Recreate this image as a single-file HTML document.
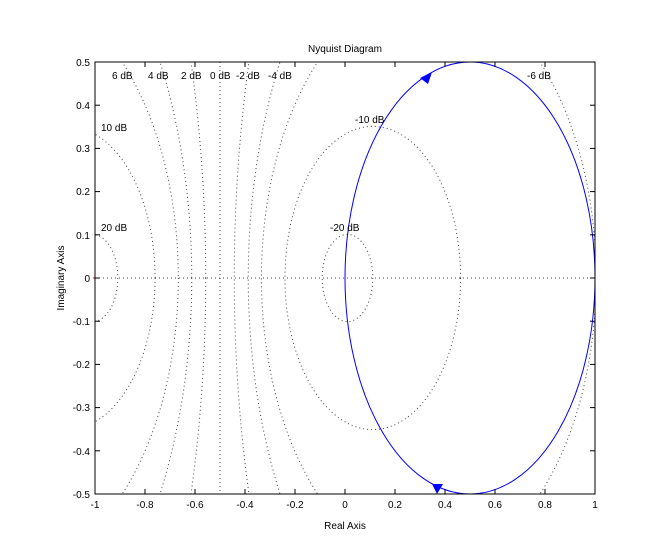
<!DOCTYPE html>
<html><head><style>html,body{margin:0;padding:0;background:#fff;width:657px;height:556px;overflow:hidden}svg{display:block}text{font-family:"Liberation Sans",sans-serif;font-size:10px;fill:#000}</style></head>
<body>
<svg width="657" height="556" viewBox="0 0 657 556" xmlns="http://www.w3.org/2000/svg">
<defs><clipPath id="c"><rect x="95" y="62" width="500" height="432"/></clipPath></defs>
<rect width="657" height="556" fill="#fff"/>
<g clip-path="url(#c)" fill="none" stroke="#444" stroke-width="1" stroke-dasharray="1,3">
<ellipse cx="92.5" cy="278" rx="25.3" ry="43.6"/>
<ellipse cx="67.25" cy="278" rx="87.8" ry="151.6"/>
<ellipse cx="11" cy="278" rx="167.3" ry="289"/>
<ellipse cx="-70.25" cy="278" rx="262" ry="452.7"/>
<ellipse cx="-332.25" cy="278" rx="538" ry="929.7"/>
<line x1="220" y1="62" x2="220" y2="494"/>
<ellipse cx="772.25" cy="278" rx="538" ry="929.7"/>
<ellipse cx="510.25" cy="278" rx="262" ry="452.7"/>
<ellipse cx="428.75" cy="278" rx="167.3" ry="289"/>
<ellipse cx="372.75" cy="278" rx="87.8" ry="151.6"/>
<ellipse cx="347.5" cy="278" rx="25.3" ry="43.6"/>
<line x1="95" y1="278" x2="595" y2="278"/>
</g>
<g clip-path="url(#c)">
<ellipse cx="470" cy="278" rx="125" ry="216" fill="none" stroke="#0000ff" stroke-width="1"/>
</g>
<polygon points="432,72 420,78 428,84" fill="#0000ff"/>
<polygon points="432,484 443,484 437,494" fill="#0000ff"/>
<line x1="93" y1="278" x2="99" y2="278" stroke="#ff0000"/>
<rect x="95" y="62" width="500" height="432" fill="none" stroke="#000"/>
<g stroke="#000">
<line x1="145" y1="494" x2="145" y2="489"/><line x1="195" y1="494" x2="195" y2="489"/><line x1="245" y1="494" x2="245" y2="489"/><line x1="295" y1="494" x2="295" y2="489"/><line x1="345" y1="494" x2="345" y2="489"/><line x1="395" y1="494" x2="395" y2="489"/><line x1="445" y1="494" x2="445" y2="489"/><line x1="495" y1="494" x2="495" y2="489"/><line x1="545" y1="494" x2="545" y2="489"/>
<line x1="145" y1="62" x2="145" y2="67"/><line x1="195" y1="62" x2="195" y2="67"/><line x1="245" y1="62" x2="245" y2="67"/><line x1="295" y1="62" x2="295" y2="67"/><line x1="345" y1="62" x2="345" y2="67"/><line x1="395" y1="62" x2="395" y2="67"/><line x1="445" y1="62" x2="445" y2="67"/><line x1="495" y1="62" x2="495" y2="67"/><line x1="545" y1="62" x2="545" y2="67"/>
<line x1="95" y1="105.2" x2="100" y2="105.2"/><line x1="95" y1="148.4" x2="100" y2="148.4"/><line x1="95" y1="191.6" x2="100" y2="191.6"/><line x1="95" y1="234.8" x2="100" y2="234.8"/><line x1="95" y1="278" x2="100" y2="278"/><line x1="95" y1="321.2" x2="100" y2="321.2"/><line x1="95" y1="364.4" x2="100" y2="364.4"/><line x1="95" y1="407.6" x2="100" y2="407.6"/><line x1="95" y1="450.8" x2="100" y2="450.8"/>
<line x1="595" y1="105.2" x2="590" y2="105.2"/><line x1="595" y1="148.4" x2="590" y2="148.4"/><line x1="595" y1="191.6" x2="590" y2="191.6"/><line x1="595" y1="234.8" x2="590" y2="234.8"/><line x1="595" y1="278" x2="590" y2="278"/><line x1="595" y1="321.2" x2="590" y2="321.2"/><line x1="595" y1="364.4" x2="590" y2="364.4"/><line x1="595" y1="407.6" x2="590" y2="407.6"/><line x1="595" y1="450.8" x2="590" y2="450.8"/>
</g>
<g text-anchor="middle">
<text x="95" y="508">-1</text><text x="145" y="508">-0.8</text><text x="195" y="508">-0.6</text><text x="245" y="508">-0.4</text><text x="295" y="508">-0.2</text><text x="345" y="508">0</text><text x="395" y="508">0.2</text><text x="445" y="508">0.4</text><text x="495" y="508">0.6</text><text x="545" y="508">0.8</text><text x="595" y="508">1</text>
<text x="345" y="52">Nyquist Diagram</text>
<text x="345" y="529">Real Axis</text>
<text x="0" y="0" transform="translate(64,278) rotate(-90)">Imaginary Axis</text>
</g>
<g text-anchor="end">
<text x="90" y="66">0.5</text><text x="90" y="109">0.4</text><text x="90" y="152">0.3</text><text x="90" y="195">0.2</text><text x="90" y="239">0.1</text><text x="90" y="282">0</text><text x="90" y="325">-0.1</text><text x="90" y="368">-0.2</text><text x="90" y="411">-0.3</text><text x="90" y="455">-0.4</text><text x="90" y="498">-0.5</text>
</g>
<g>
<text x="112" y="79">6 dB</text><text x="148" y="79">4 dB</text><text x="181" y="79">2 dB</text><text x="210" y="79">0 dB</text><text x="236" y="79">-2 dB</text><text x="268" y="79">-4 dB</text><text x="527" y="79">-6 dB</text>
<text x="101" y="131">10 dB</text><text x="355" y="123">-10 dB</text><text x="101" y="231">20 dB</text><text x="330" y="231">-20 dB</text>
</g>
</svg>
</body></html>
